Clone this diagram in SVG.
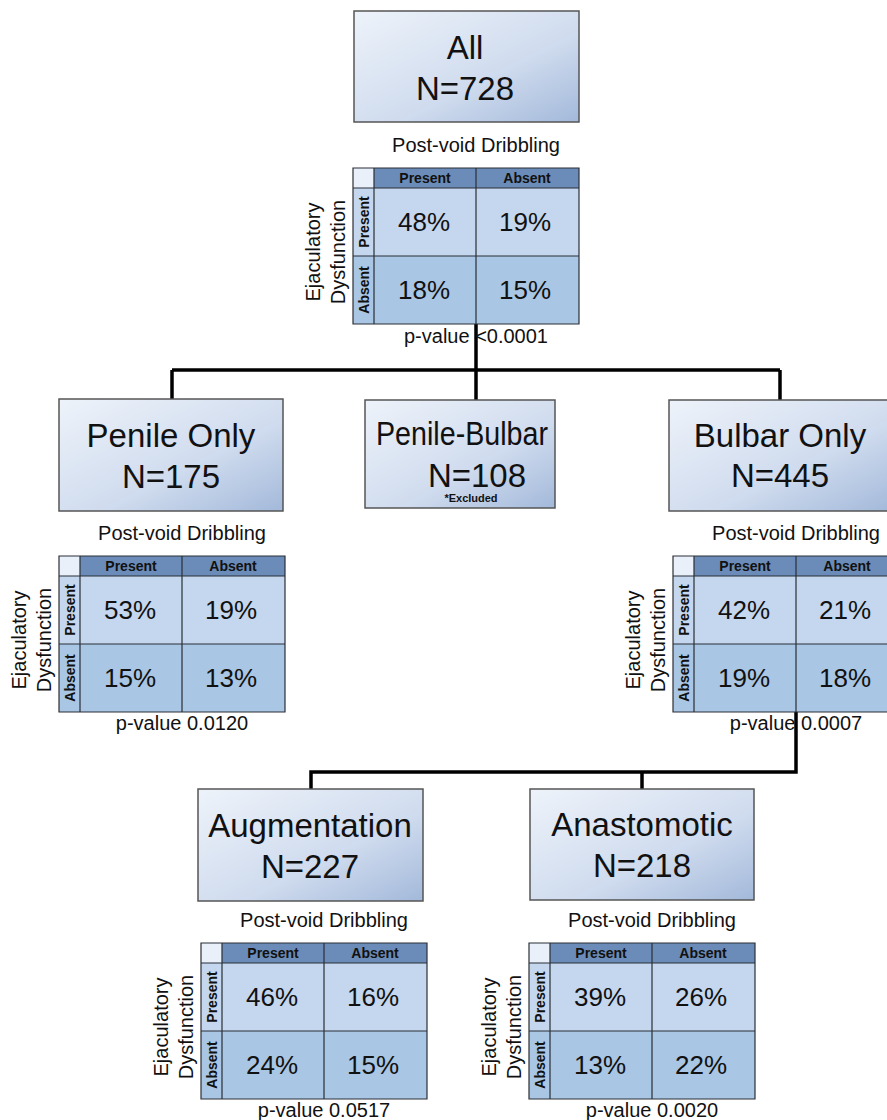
<svg xmlns="http://www.w3.org/2000/svg" width="887" height="1120" viewBox="0 0 887 1120">
<defs>
<linearGradient id="boxg" x1="0" y1="0" x2="1" y2="1">
<stop offset="0" stop-color="#eef3fa"/>
<stop offset="0.6" stop-color="#cfdbee"/>
<stop offset="1" stop-color="#a3b9da"/>
</linearGradient>
<g id="tbl">
<rect x="0" y="0" width="21" height="20" fill="#e9f0fa"/>
<rect x="21" y="0" width="205" height="20" fill="#6b8cb8"/>
<rect x="0" y="20" width="226" height="68" fill="#c4d7ee"/>
<rect x="0" y="88" width="226" height="68" fill="#a9c6e4"/>
<path d="M0,0H226V156H0Z M21,0V156 M123,0V156 M0,20H226 M0,88H226" fill="none" stroke="#2b2f36" stroke-width="1.2"/>
<text class="hdr" x="72" y="15">Present</text>
<text class="hdr" x="174" y="15">Absent</text>
<text class="rlab" transform="translate(15.5,54) rotate(-90)">Present</text>
<text class="rlab" transform="translate(15.5,122) rotate(-90)">Absent</text>
<text class="ed" transform="translate(-33,84) rotate(-90)">Ejaculatory</text>
<text class="ed" transform="translate(-8,84) rotate(-90)">Dysfunction</text>
<text class="pvd" x="123" y="-16">Post-void Dribbling</text>
</g>
</defs>
<style>
text{font-family:"Liberation Sans",Arial,sans-serif;fill:#111;text-anchor:middle}
.box{fill:url(#boxg);stroke:#555;stroke-width:1.5}
.big{font-size:33px}
.hdr{font-size:14px;font-weight:bold}
.rlab{font-size:14px;font-weight:bold}
.ed{font-size:20px}
.pvd{font-size:20px}
.pv{font-size:20px}
.pct{font-size:26px}
.excl{font-size:11px;font-weight:bold}
.conn{fill:none;stroke:#000;stroke-width:3.5}
</style>

<g id="connectors">
<path class="conn" d="M476,323V370 M172,370H780 M172,370V399 M476,370V400 M780,370V400"/>
<path class="conn" d="M796,712V772H311V789 M642,772V789"/>
</g>

<g id="node-all">
<rect class="box" x="354" y="11" width="225" height="111"/>
<text class="big" x="465" y="59">All</text>
<text class="big" x="465" y="100">N=728</text>
<g transform="translate(353,168)">
<use href="#tbl"/>
<text class="pct" x="71" y="63">48%</text>
<text class="pct" x="172" y="63">19%</text>
<text class="pct" x="71" y="131">18%</text>
<text class="pct" x="172" y="131">15%</text>
<text class="pv" x="123" y="175">p-value &lt;0.0001</text>
</g>
</g>

<g id="node-penile">
<rect class="box" x="59" y="399" width="224" height="112"/>
<text class="big" x="171" y="447">Penile Only</text>
<text class="big" x="171" y="488">N=175</text>
<g transform="translate(59,556)">
<use href="#tbl"/>
<text class="pct" x="71" y="63">53%</text>
<text class="pct" x="172" y="63">19%</text>
<text class="pct" x="71" y="131">15%</text>
<text class="pct" x="172" y="131">13%</text>
<text class="pv" x="123" y="174">p-value 0.0120</text>
</g>
</g>

<g id="node-penile-bulbar">
<rect class="box" x="365" y="400" width="190" height="108"/>
<text class="big" x="462" y="445" textLength="172" lengthAdjust="spacingAndGlyphs">Penile-Bulbar</text>
<text class="big" x="477" y="487">N=108</text>
<text class="excl" x="471" y="502">*Excluded</text>
</g>

<g id="node-bulbar">
<rect class="box" x="669" y="400" width="222" height="111"/>
<text class="big" x="780" y="447">Bulbar Only</text>
<text class="big" x="780" y="487">N=445</text>
<g transform="translate(673,556)">
<use href="#tbl"/>
<text class="pct" x="71" y="63">42%</text>
<text class="pct" x="172" y="63">21%</text>
<text class="pct" x="71" y="131">19%</text>
<text class="pct" x="172" y="131">18%</text>
<text class="pv" x="123" y="174">p-value 0.0007</text>
</g>
</g>

<g id="node-augmentation">
<rect class="box" x="198" y="789" width="225" height="112"/>
<text class="big" x="310" y="837">Augmentation</text>
<text class="big" x="310" y="878">N=227</text>
<g transform="translate(201,943)">
<use href="#tbl"/>
<text class="pct" x="71" y="63">46%</text>
<text class="pct" x="172" y="63">16%</text>
<text class="pct" x="71" y="131">24%</text>
<text class="pct" x="172" y="131">15%</text>
<text class="pv" x="123" y="174">p-value 0.0517</text>
</g>
</g>

<g id="node-anastomotic">
<rect class="box" x="530" y="789" width="224" height="111"/>
<text class="big" x="642" y="836">Anastomotic</text>
<text class="big" x="642" y="877">N=218</text>
<g transform="translate(529,943)">
<use href="#tbl"/>
<text class="pct" x="71" y="63">39%</text>
<text class="pct" x="172" y="63">26%</text>
<text class="pct" x="71" y="131">13%</text>
<text class="pct" x="172" y="131">22%</text>
<text class="pv" x="123" y="174">p-value 0.0020</text>
</g>
</g>
</svg>
